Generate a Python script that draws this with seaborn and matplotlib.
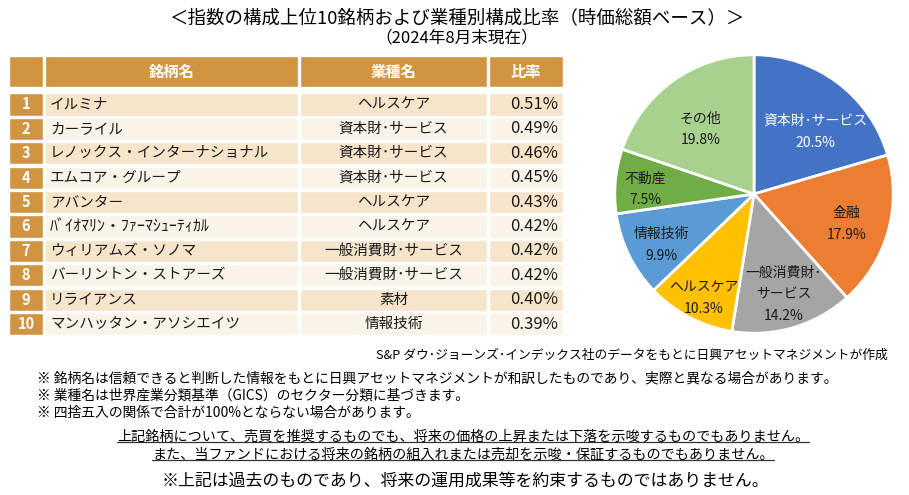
import numpy as np
import seaborn as sns
import matplotlib.pyplot as plt
from matplotlib.lines import Line2D

# top 10 constituents
ranks = list(range(1, 11))
names = ['イルミナ', 'カーライル', 'レノックス・インターナショナル', 'エムコア・グループ', 'アバンター',
         'ﾊﾞｲｵﾏﾘﾝ・ﾌｧｰﾏｼｭｰﾃｨｶﾙ', 'ウィリアムズ・ソノマ', 'バーリントン・ストアーズ', 'リライアンス',
         'マンハッタン・アソシエイツ']
sectors = ['ヘルスケア', '資本財･サービス', '資本財･サービス', '資本財･サービス', 'ヘルスケア',
           'ヘルスケア', '一般消費財･サービス', '一般消費財･サービス', '素材', '情報技術']
weights = [0.51, 0.49, 0.46, 0.45, 0.43, 0.42, 0.42, 0.42, 0.40, 0.39]
headers = ['', '銘柄名', '業種名', '比率']

# sector breakdown
pie_labels = ['資本財･サービス', '金融', '一般消費財･\nサービス', 'ヘルスケア', '情報技術', '不動産', 'その他']
pie_values = [20.5, 17.9, 14.2, 10.3, 9.9, 7.5, 19.8]
pie_colors = ['#4472C4', '#ED7D31', '#A5A5A5', '#FFC000', '#5B9BD5', '#70AD47', '#A9D18E']

GOLD = '#D19542'
ROW_A = '#F6E4CB'
ROW_B = '#FAF3E8'
INK = '#1A1A1A'

sns.set_theme(style='white')
plt.rcParams['font.family'] = ['Noto Sans CJK JP', 'DejaVu Sans']

W, H = 909, 495
fig = plt.figure(figsize=(W / 100, H / 100), dpi=100)
fig.patch.set_facecolor('white')


def fx(px):
    return px / W


def fy(py):
    return 1 - py / H


fig.text(fx(457), fy(18), '＜指数の構成上位10銘柄および業種別構成比率（時価総額ベース）＞',
         ha='center', va='center', fontsize=13.3, color='black')
fig.text(fx(457), fy(38), '（2024年8月末現在）', ha='center', va='center', fontsize=12, color='black')

# ---- table ----
tab = fig.add_axes([fx(9), fy(335.5), 554 / W, (335.5 - 56) / H])
col_left = [0, 36, 291, 480]
col_width = [34, 253, 187, 74]
tab.set_xlim(0, 554)
tab.set_ylim(10.47, -0.985)
tab.axis('off')

head_y = -0.345
tab.barh([head_y] * 4, col_width, left=col_left, height=1.28, color=GOLD)
for l, w, h in zip(col_left, col_width, headers):
    tab.text(l + w / 2, head_y, h, ha='center', va='center', color='white',
             fontsize=11, fontweight='bold')

row_fill = [ROW_A if i % 2 == 0 else ROW_B for i in range(len(ranks))]
tab.barh(ranks, col_width[0], left=col_left[0], height=0.91, color=GOLD)
for c in range(1, 4):
    tab.barh(ranks, col_width[c], left=col_left[c], height=0.91, color=row_fill)

for r, n, s, v in zip(ranks, names, sectors, weights):
    tab.text(col_left[0] + col_width[0] / 2, r, str(r), ha='center', va='center',
             color='white', fontsize=10.5, fontweight='bold')
    # half-width katakana name is drawn a little larger, as in the source
    fs = 11.5 if n.startswith('ﾊ') else 10.5
    tab.text(col_left[1] + 5, r, n, ha='left', va='center', color=INK, fontsize=fs)
    tab.text(col_left[2] + col_width[2] / 2, r, s, ha='center', va='center', color=INK, fontsize=10.5)
    tab.text(col_left[3] + col_width[3] - 5, r, f'{v:.2f}%', ha='right', va='center',
             color=INK, fontsize=12)

# ---- pie ----
pie = fig.add_axes([fx(612), fy(336), 284 / W, 284 / H])
wedges, _ = pie.pie(pie_values, colors=pie_colors, startangle=90, counterclock=False,
                    radius=1, wedgeprops=dict(edgecolor='white', linewidth=2))
pie.set_xlim(-1.02, 1.02)
pie.set_ylim(-1.02, 1.02)
pie.set_aspect('equal')
pie.axis('off')

label_r = [0.63, 0.70, 0.75, 0.83, 0.76, 0.78, 0.60]
label_da = [-8, -2, 0, 2, 3, 3, 4]
label_col = ['white', INK, INK, INK, INK, INK, INK]
for w, lab, v, rr, da, col in zip(wedges, pie_labels, pie_values, label_r, label_da, label_col):
    a = np.deg2rad((w.theta1 + w.theta2) / 2 + da)
    pie.text(rr * np.cos(a), rr * np.sin(a), f'{lab}\n{v:.1f}%', ha='center', va='center',
             color=col, fontsize=10, linespacing=1.7)

# ---- notes ----
fig.text(fx(888), fy(355), 'S&P ダウ･ジョーンズ･インデックス社のデータをもとに日興アセットマネジメントが作成',
         ha='right', va='center', fontsize=9.2, color='black')
notes = ['※ 銘柄名は信頼できると判断した情報をもとに日興アセットマネジメントが和訳したものであり、実際と異なる場合があります。',
         '※ 業種名は世界産業分類基準（GICS）のセクター分類に基づきます。',
         '※ 四捨五入の関係で合計が100%とならない場合があります。']
for i, t in enumerate(notes):
    fig.text(fx(37), fy(378 + 17.5 * i), t, ha='left', va='center', fontsize=9.95, color='black')

under = []
for i, t in enumerate(['上記銘柄について、売買を推奨するものでも、将来の価格の上昇または下落を示唆するものでもありません。',
                       'また、当ファンドにおける将来の銘柄の組入れまたは売却を示唆・保証するものでもありません。']):
    under.append(fig.text(fx(463), fy(437 + 18 * i), t, ha='center', va='center',
                          fontsize=10.2, color='black'))
fig.text(fx(465), fy(481), '※上記は過去のものであり、将来の運用成果等を約束するものではありません。',
         ha='center', va='center', fontsize=12.2, color='black')

fig.canvas.draw()
rend = fig.canvas.get_renderer()
for t in under:
    bb = t.get_window_extent(rend)
    y = (bb.y0 + 2) / H
    fig.add_artist(Line2D([bb.x0 / W, bb.x1 / W], [y, y], transform=fig.transFigure,
                          color='#333333', linewidth=0.9))

fig.savefig('out.png', dpi=100, facecolor='white')
